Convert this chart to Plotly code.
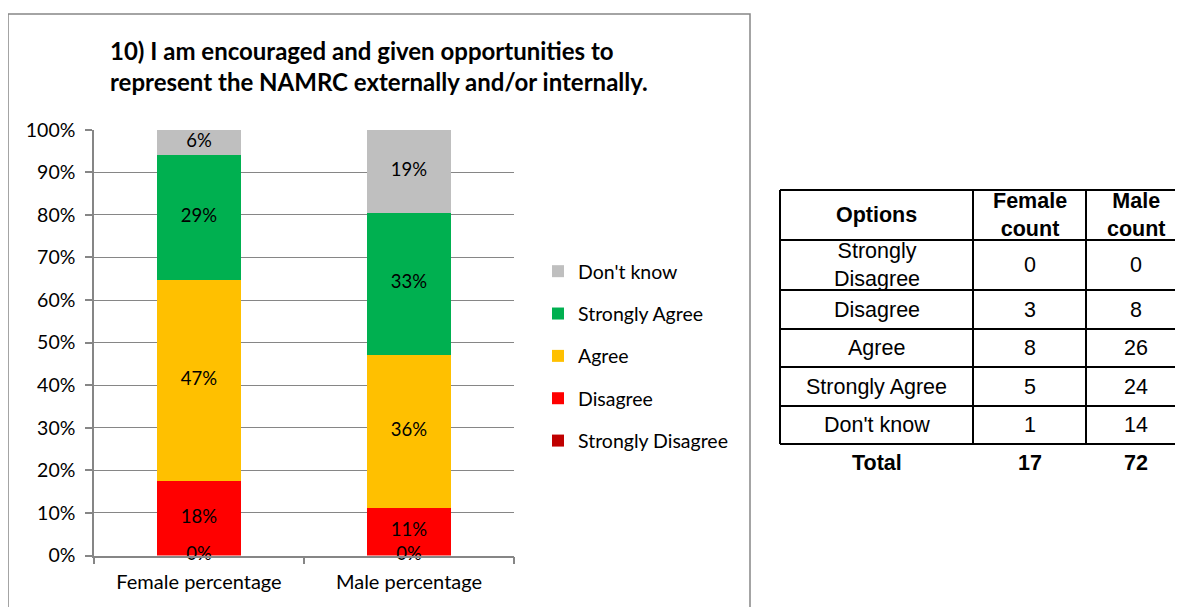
import plotly.graph_objects as go

# ---- data ----
categories = ["Female percentage", "Male percentage"]
options = ["Strongly Disagree", "Disagree", "Agree", "Strongly Agree", "Don't know"]
female_pct = [0.0, 17.6, 47.1, 29.4, 5.9]
male_pct = [0.0, 11.1, 36.1, 33.3, 19.4]
female_count = [0, 3, 8, 5, 1]
male_count = [0, 8, 26, 24, 14]
female_total = 17
male_total = 72
table_header = ["Options", "Female<br>count", "Male<br>count"]
table_labels = ["Strongly<br>Disagree", "Disagree", "Agree", "Strongly Agree", "Don't know"]
colors = ["#C00000", "#FF0000", "#FFC000", "#00B050", "#BFBFBF"]
y_ticks = [0, 10, 20, 30, 40, 50, 60, 70, 80, 90, 100]

# ---- layout helpers (screen pixel -> paper fraction; page body has 8px margin) ----
W, H = 1183, 607
OFF = 8
def px(x):
    return (x - OFF) / W
def py(y):
    return 1 - (y - OFF) / H

CAL = "Lato, 'Liberation Sans', sans-serif"
ARIAL = "'Liberation Sans', Arial, sans-serif"
GREY = "#868686"

fig = go.Figure()

for i, name in enumerate(options):
    fig.add_trace(go.Bar(
        x=categories, y=[female_pct[i], male_pct[i]], name=name,
        marker=dict(color=colors[i], line=dict(width=0)),
        legendgroup=name, legendrank=len(options) - i,
        hoverinfo="skip",
    ))

# data labels, centred in each segment
lab_x, lab_y, lab_t = [], [], []
for ci, cat in enumerate(categories):
    vals = female_pct if ci == 0 else male_pct
    base = 0.0
    for v in vals:
        lab_x.append(cat)
        lab_y.append(base + v / 2)
        lab_t.append(f"{round(v)}%")
        base += v
fig.add_trace(go.Scatter(
    x=lab_x, y=lab_y, text=lab_t, mode="text",
    textfont=dict(family=CAL, size=18.5, color="#000000"),
    showlegend=False, hoverinfo="skip", cliponaxis=False,
))

# ---- table drawn with lines + text ----
col_edges = [780, 973, 1086, 1192]
row_edges = [190, 240, 290, 329, 367, 406, 444]
total_row_y = 463
shapes = [dict(type="rect", xref="paper", yref="paper",
               x0=px(8), x1=px(750), y0=py(640), y1=py(14),
               line=dict(color=GREY, width=1.5))]
tline = dict(color="#000000", width=2)
for yv in row_edges:
    shapes.append(dict(type="line", xref="paper", yref="paper",
                       x0=px(col_edges[0]), x1=px(col_edges[-1]),
                       y0=py(yv), y1=py(yv), line=tline))
for xv in col_edges[:-1]:
    shapes.append(dict(type="line", xref="paper", yref="paper",
                       x0=px(xv), x1=px(xv),
                       y0=py(row_edges[0]), y1=py(row_edges[-1]), line=tline))

annotations = [dict(
    xref="paper", yref="paper", x=px(108), y=py(66),
    xanchor="left", yanchor="middle", align="left", showarrow=False,
    text="<b>10) I am encouraged and given opportunities to<br>represent the NAMRC externally and/or internally.</b>",
    font=dict(family=CAL, size=24, color="#000000"),
)]

def cell_text(txt, ci, yc, bold=False, right_edge=None):
    xr = col_edges[ci + 1] if right_edge is None else right_edge
    xc = (col_edges[ci] + xr) / 2
    return dict(xref="paper", yref="paper", x=px(xc), y=py(yc),
                xanchor="center", yanchor="middle", align="center", showarrow=False,
                text=f"<b>{txt}</b>" if bold else str(txt),
                font=dict(family=ARIAL, size=21.5, color="#000000"))

VIS_RIGHT = 1186
for ci, h in enumerate(table_header):
    annotations.append(cell_text(h, ci, (row_edges[0] + row_edges[1]) / 2, bold=True,
                                 right_edge=VIS_RIGHT if ci == 2 else None))
for ri in range(len(table_labels)):
    yc = (row_edges[ri + 1] + row_edges[ri + 2]) / 2
    annotations.append(cell_text(table_labels[ri], 0, yc))
    annotations.append(cell_text(female_count[ri], 1, yc))
    annotations.append(cell_text(male_count[ri], 2, yc, right_edge=VIS_RIGHT))
annotations.append(cell_text("Total", 0, total_row_y, bold=True))
annotations.append(cell_text(female_total, 1, total_row_y, bold=True))
annotations.append(cell_text(male_total, 2, total_row_y, bold=True, right_edge=VIS_RIGHT))

fig.update_layout(
    width=W, height=H,
    margin=dict(l=0, r=0, t=0, b=0),
    paper_bgcolor="white", plot_bgcolor="white",
    barmode="stack", bargap=0.6,
    font=dict(family=CAL, color="#000000"),
    xaxis=dict(
        domain=[px(94), px(514)], automargin=False,
        showline=True, linecolor=GREY, linewidth=1.5,
        ticks="outside", tickson="boundaries", ticklen=7, tickcolor=GREY, tickwidth=1.5,
        tickfont=dict(family=CAL, size=20, color="#000000"),
        ticklabelstandoff=8,
        showgrid=False,
    ),
    yaxis=dict(
        domain=[py(555.5), py(129.7)], automargin=False,
        range=[0, 100], tickvals=y_ticks,
        ticktext=[f"{t}%" for t in y_ticks],
        showline=True, linecolor=GREY, linewidth=1.5,
        ticks="outside", ticklen=7, tickcolor=GREY, tickwidth=1.5,
        gridcolor=GREY, gridwidth=1.2,
        tickfont=dict(family=CAL, size=19.5, color="#000000"),
        ticklabelstandoff=6,
        zeroline=False,
    ),
    legend=dict(
        x=px(538), y=py(252), xanchor="left", yanchor="top",
        traceorder="grouped", tracegroupgap=14,
        font=dict(family=CAL, size=19.5, color="#000000"),
        itemwidth=30, bgcolor="rgba(0,0,0,0)",
    ),
    shapes=shapes,
    annotations=annotations,
)

fig.write_html("out.html")
